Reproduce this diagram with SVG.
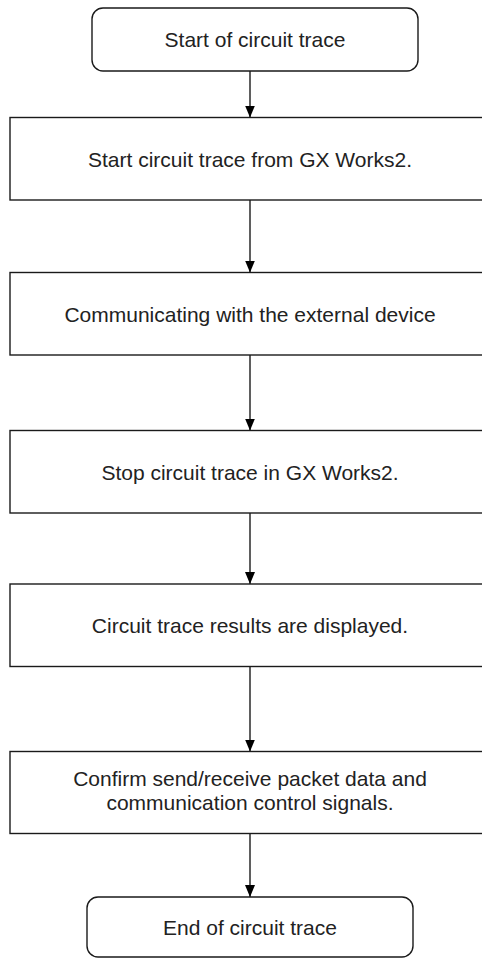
<svg xmlns="http://www.w3.org/2000/svg" width="482" height="958" viewBox="0 0 482 958">
<style>
.box{fill:#fff;stroke:#1a1a1a;stroke-width:1.4}
.t{font-family:"Liberation Sans",Arial,sans-serif;font-size:21px;fill:#222;text-anchor:middle}
.c{stroke:#1a1a1a;stroke-width:1.4;fill:none}
</style>
<defs>
<marker id="ah" markerWidth="12" markerHeight="10" refX="12" refY="5" orient="auto" markerUnits="userSpaceOnUse">
<path d="M0,0 L12,5 L0,10 Z" fill="#000"/>
</marker>
</defs>
<rect width="482" height="958" fill="#fff"/>
<g id="connectors">
<line class="c" x1="250" y1="71" x2="250" y2="117.5" marker-end="url(#ah)"/>
<line class="c" x1="250" y1="200" x2="250" y2="272.5" marker-end="url(#ah)"/>
<line class="c" x1="250" y1="355" x2="250" y2="430.5" marker-end="url(#ah)"/>
<line class="c" x1="250" y1="513" x2="250" y2="584" marker-end="url(#ah)"/>
<line class="c" x1="250" y1="666.5" x2="250" y2="751.5" marker-end="url(#ah)"/>
<line class="c" x1="250" y1="833.5" x2="250" y2="897" marker-end="url(#ah)"/>
</g>
<g id="start">
<rect class="box" x="92" y="8" width="326" height="63" rx="11"/>
<text class="t" x="255" y="47">Start of circuit trace</text>
</g>
<g id="step1">
<rect class="box" x="10" y="117.5" width="480" height="82.5"/>
<text class="t" x="250" y="166.5">Start circuit trace from GX Works2.</text>
</g>
<g id="step2">
<rect class="box" x="10" y="272.5" width="480" height="82.5"/>
<text class="t" x="250" y="321.5">Communicating with the external device</text>
</g>
<g id="step3">
<rect class="box" x="10" y="430.5" width="480" height="82.5"/>
<text class="t" x="250" y="479.5">Stop circuit trace in GX Works2.</text>
</g>
<g id="step4">
<rect class="box" x="10" y="584" width="480" height="82.5"/>
<text class="t" x="250" y="632.5">Circuit trace results are displayed.</text>
</g>
<g id="step5">
<rect class="box" x="10" y="751.5" width="480" height="82"/>
<text class="t" x="250" y="786">Confirm send/receive packet data and</text>
<text class="t" x="250" y="810">communication control signals.</text>
</g>
<g id="end">
<rect class="box" x="87" y="897" width="326" height="60" rx="11"/>
<text class="t" x="250" y="934.5">End of circuit trace</text>
</g>
</svg>
